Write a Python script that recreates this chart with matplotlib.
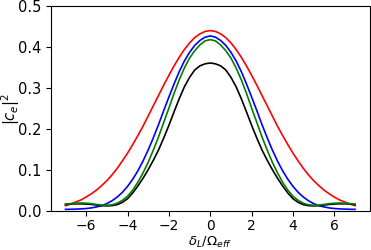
import matplotlib
matplotlib.use('Agg')
import matplotlib.pyplot as plt

# detuning values (right half, mirrored for the left side)
x_half = [0, 0.25, 0.5, 0.75, 1, 1.25, 1.5, 1.75, 2, 2.25, 2.5, 2.75, 3, 3.25,
          3.5, 3.75, 4, 4.25, 4.5, 4.75, 5, 5.25, 5.5, 5.75, 6, 6.25, 6.5,
          6.75, 7]

red_half = [0.440, 0.438, 0.432, 0.423, 0.410, 0.394, 0.375, 0.354, 0.331,
            0.307, 0.282, 0.257, 0.232, 0.207, 0.184, 0.162, 0.141, 0.122,
            0.104, 0.088, 0.074, 0.062, 0.051, 0.042, 0.034, 0.027, 0.022,
            0.017, 0.013]
blue_half = [0.427, 0.424, 0.416, 0.404, 0.387, 0.366, 0.340, 0.310, 0.278,
             0.245, 0.211, 0.179, 0.149, 0.122, 0.098, 0.0775, 0.060, 0.0455,
             0.034, 0.025, 0.018, 0.013, 0.010, 0.0075, 0.006, 0.0052, 0.0046,
             0.0042, 0.004]
green_half = [0.418, 0.415, 0.405, 0.391, 0.373, 0.349, 0.320, 0.287, 0.251,
              0.216, 0.181, 0.149, 0.119, 0.093, 0.070, 0.051, 0.036, 0.026,
              0.019, 0.015, 0.014, 0.0145, 0.016, 0.018, 0.019, 0.0195, 0.019,
              0.018, 0.017]
black_half = [0.361, 0.359, 0.354, 0.344, 0.326, 0.303, 0.274, 0.242, 0.209,
              0.178, 0.149, 0.124, 0.101, 0.080, 0.061, 0.044, 0.030, 0.021,
              0.0155, 0.013, 0.0125, 0.013, 0.0145, 0.016, 0.017, 0.0175,
              0.0175, 0.017, 0.016]


def mirror(xs, ys):
    xx = [-v for v in xs[:0:-1]] + xs
    yy = ys[:0:-1] + ys
    return xx, yy


fig = plt.figure(figsize=(3.71, 2.5), dpi=100)
ax = fig.add_axes([0.1375, 0.156, 0.8585, 0.82])

for ys, c in [(red_half, 'red'), (blue_half, 'blue'),
              (black_half, 'black'), (green_half, 'green')]:
    xx, yy = mirror(x_half, ys)
    ax.plot(xx, yy, color=c, lw=1.2)

ax.set_xlim(-7.7, 7.7)
ax.set_ylim(0, 0.5)
ax.set_xticks([-6, -4, -2, 0, 2, 4, 6])
ax.set_yticks([0.0, 0.1, 0.2, 0.3, 0.4, 0.5])
ax.tick_params(labelsize=10.5)
ax.tick_params(axis='x', labelsize=10, pad=2)
ax.set_xlabel(r'$\delta_L/\Omega_{eff}$', fontsize=9.5, va='bottom')
ax.set_ylabel(r'$|c_e|^2$', fontsize=10.5, va='center')
ax.xaxis.set_label_coords(0.5, -0.19)
ax.yaxis.set_label_coords(-0.128, 0.5)

fig.savefig('out.png', dpi=100)
